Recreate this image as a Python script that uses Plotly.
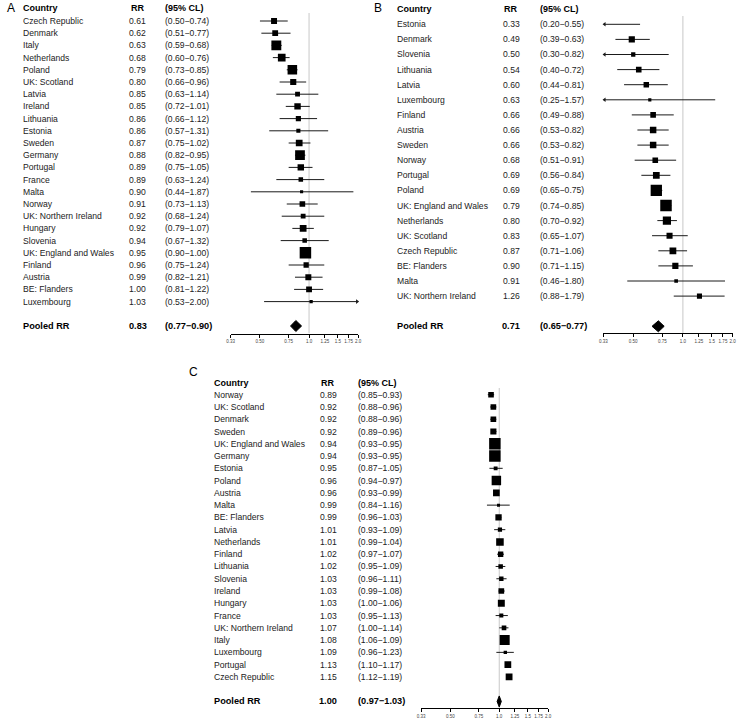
import math
import plotly.graph_objects as go

W, H = 742, 720

# ---------------- data ----------------
a_countries = ["Czech Republic", "Denmark", "Italy", "Netherlands", "Poland", "UK: Scotland",
               "Latvia", "Ireland", "Lithuania", "Estonia", "Sweden", "Germany", "Portugal",
               "France", "Malta", "Norway", "UK: Northern Ireland", "Hungary", "Slovenia",
               "UK: England and Wales", "Finland", "Austria", "BE: Flanders", "Luxembourg"]
a_rr = [0.61, 0.62, 0.63, 0.68, 0.79, 0.80, 0.85, 0.85, 0.86, 0.86, 0.87, 0.88, 0.89,
        0.89, 0.90, 0.91, 0.92, 0.92, 0.94, 0.95, 0.96, 0.99, 1.00, 1.03]
a_lo = [0.50, 0.51, 0.59, 0.60, 0.73, 0.66, 0.63, 0.72, 0.66, 0.57, 0.75, 0.82, 0.75,
        0.63, 0.44, 0.73, 0.68, 0.79, 0.67, 0.90, 0.75, 0.82, 0.81, 0.53]
a_hi = [0.74, 0.77, 0.68, 0.76, 0.85, 0.96, 1.14, 1.01, 1.12, 1.31, 1.02, 0.95, 1.05,
        1.24, 1.87, 1.13, 1.24, 1.07, 1.32, 1.00, 1.24, 1.21, 1.22, 2.00]

b_countries = ["Estonia", "Denmark", "Slovenia", "Lithuania", "Latvia", "Luxembourg", "Finland",
               "Austria", "Sweden", "Norway", "Portugal", "Poland", "UK: England and Wales",
               "Netherlands", "UK: Scotland", "Czech Republic", "BE: Flanders", "Malta",
               "UK: Northern Ireland"]
b_rr = [0.33, 0.49, 0.50, 0.54, 0.60, 0.63, 0.66, 0.66, 0.66, 0.68, 0.69, 0.69, 0.79,
        0.80, 0.83, 0.87, 0.90, 0.91, 1.26]
b_lo = [0.20, 0.39, 0.30, 0.40, 0.44, 0.25, 0.49, 0.53, 0.53, 0.51, 0.56, 0.65, 0.74,
        0.70, 0.65, 0.71, 0.71, 0.46, 0.88]
b_hi = [0.55, 0.63, 0.82, 0.72, 0.81, 1.57, 0.88, 0.82, 0.82, 0.91, 0.84, 0.75, 0.85,
        0.92, 1.07, 1.06, 1.15, 1.80, 1.79]

c_countries = ["Norway", "UK: Scotland", "Denmark", "Sweden", "UK: England and Wales", "Germany",
               "Estonia", "Poland", "Austria", "Malta", "BE: Flanders", "Latvia", "Netherlands",
               "Finland", "Lithuania", "Slovenia", "Ireland", "Hungary", "France",
               "UK: Northern Ireland", "Italy", "Luxembourg", "Portugal", "Czech Republic"]
c_rr = [0.89, 0.92, 0.92, 0.92, 0.94, 0.94, 0.95, 0.96, 0.96, 0.99, 0.99, 1.01, 1.01,
        1.02, 1.02, 1.03, 1.03, 1.03, 1.03, 1.07, 1.08, 1.09, 1.13, 1.15]
c_lo = [0.85, 0.88, 0.88, 0.89, 0.93, 0.93, 0.87, 0.94, 0.93, 0.84, 0.96, 0.93, 0.99,
        0.97, 0.95, 0.96, 0.99, 1.00, 0.95, 1.00, 1.06, 0.96, 1.10, 1.12]
c_hi = [0.93, 0.96, 0.96, 0.96, 0.95, 0.95, 1.05, 0.97, 0.99, 1.16, 1.03, 1.09, 1.04,
        1.07, 1.09, 1.11, 1.08, 1.06, 1.13, 1.14, 1.09, 1.23, 1.17, 1.19]

pooled_rr = [0.83, 0.71, 1.00]
pooled_lo = [0.77, 0.65, 0.97]
pooled_hi = [0.90, 0.77, 1.03]

panel_letters = ["A", "B", "C"]
tick_vals = [0.33, 0.5, 0.75, 1.0, 1.25, 1.5, 1.75, 2.0]
tick_text = ["0.33", "0.50", "0.75", "1.0", "1.25", "1.5", "1.75", "2.0"]
X_MIN, X_MAX = 0.33, 2.0

# ---------------- layout geometry (pixels) ----------------
panels = [
    dict(c=a_countries, rr=a_rr, lo=a_lo, hi=a_hi,
         x0=229, x1=358, row0=21, sp=12.2, top=2, bottom=333.5, head=8, vtop=13,
         cx=17, rrx=135, clx=161, lx=1, ly=8),
    dict(c=b_countries, rr=b_rr, lo=b_lo, hi=b_hi,
         x0=606, x1=736.5, row0=24.3, sp=15.1, top=3, bottom=333.3, head=9, vtop=16,
         cx=395, rrx=513, clx=540, lx=372, ly=8),
    dict(c=c_countries, rr=c_rr, lo=c_lo, hi=c_hi,
         x0=421.7, x1=550, row0=394.7, sp=12.27, top=376, bottom=708.3, head=382.7, vtop=388,
         cx=210, rrx=328, clx=355.7, lx=185, ly=372),
]

FONT = "Liberation Sans, Arial, sans-serif"
fig = go.Figure()
annotations = []
layout = dict(width=W, height=H, margin=dict(l=0, r=0, t=0, b=0),
              paper_bgcolor="white", plot_bgcolor="white", showlegend=False,
              font=dict(family=FONT))


def idx(p, py):
    return (py - p["row0"]) / p["sp"]


for k, p in enumerate(panels):
    n = k + 1
    xname = "x" if n == 1 else f"x{n}"
    yname = "y" if n == 1 else f"y{n}"
    xkey = "xaxis" if n == 1 else f"xaxis{n}"
    ykey = "yaxis" if n == 1 else f"yaxis{n}"
    nrows = len(p["c"])
    pool_i = nrows + 1
    top_val = idx(p, p["top"])
    bot_val = idx(p, p["bottom"])

    layout[xkey] = dict(type="log", range=[math.log10(X_MIN), math.log10(X_MAX)],
                        domain=[p["x0"] / W, p["x1"] / W], anchor=yname,
                        showline=True, linecolor="black", linewidth=1,
                        ticks="outside", ticklen=3, tickwidth=1, tickcolor="black",
                        tickvals=tick_vals, ticktext=tick_text, tickangle=0,
                        tickfont=dict(size=4.5, color="#444", family=FONT),
                        showgrid=False, zeroline=False, fixedrange=True)
    layout[ykey] = dict(domain=[1 - p["bottom"] / H, 1 - p["top"] / H],
                        range=[bot_val, top_val], visible=False, anchor=xname,
                        showgrid=False, zeroline=False, fixedrange=True)

    # reference line at RR = 1
    fig.add_trace(go.Scatter(x=[1, 1], y=[idx(p, p["vtop"]), bot_val], mode="lines",
                             line=dict(color="#c8c8c8", width=1), xaxis=xname, yaxis=yname,
                             hoverinfo="skip"))

    # confidence intervals
    xs, ys = [], []
    arrL_x, arrL_y, arrR_x, arrR_y = [], [], [], []
    for i in range(nrows):
        lo = max(p["lo"][i], X_MIN)
        hi = min(p["hi"][i], X_MAX)
        xs += [lo, hi, None]
        ys += [i, i, None]
        if p["lo"][i] < X_MIN:
            arrL_x.append(X_MIN * 1.015)
            arrL_y.append(i)
        if p["hi"][i] >= X_MAX:
            arrR_x.append(X_MAX / 1.015)
            arrR_y.append(i)
    fig.add_trace(go.Scatter(x=xs, y=ys, mode="lines", line=dict(color="#1a1a1a", width=1),
                             xaxis=xname, yaxis=yname, hoverinfo="skip"))
    if arrL_x:
        fig.add_trace(go.Scatter(x=arrL_x, y=arrL_y, mode="markers", cliponaxis=False,
                                 marker=dict(symbol="triangle-left", size=4, color="#1a1a1a"),
                                 xaxis=xname, yaxis=yname, hoverinfo="skip"))
    if arrR_x:
        fig.add_trace(go.Scatter(x=arrR_x, y=arrR_y, mode="markers", cliponaxis=False,
                                 marker=dict(symbol="triangle-right", size=4, color="#1a1a1a"),
                                 xaxis=xname, yaxis=yname, hoverinfo="skip"))

    # squares sized by precision (inverse of log-CI width)
    se = [math.log(p["hi"][i] / p["lo"][i]) / 3.92 for i in range(nrows)]
    se_min = min(se)
    sizes = [max(3.0, 11.5 * math.sqrt(se_min / s)) for s in se]
    opac = [0 if p["rr"][i] <= X_MIN else 1 for i in range(nrows)]
    fig.add_trace(go.Scatter(x=p["rr"], y=list(range(nrows)), mode="markers",
                             marker=dict(symbol="square", size=sizes, color="black",
                                         opacity=opac, line=dict(width=0)),
                             xaxis=xname, yaxis=yname, hoverinfo="skip"))

    # pooled diamond
    hh = 5.5 / p["sp"]
    pr, pl, ph = pooled_rr[k], pooled_lo[k], pooled_hi[k]
    fig.add_trace(go.Scatter(x=[pl, pr, ph, pr, pl], y=[pool_i, pool_i - hh, pool_i, pool_i + hh, pool_i],
                             mode="lines", fill="toself", fillcolor="black",
                             line=dict(color="black", width=1), xaxis=xname, yaxis=yname,
                             hoverinfo="skip"))

    # texts
    def ann(x, y, text, anchor="left", size=8.6, color="#222", bold=False):
        t = f"<b>{text}</b>" if bold else text
        annotations.append(dict(x=x / W, xref="paper", y=y, yref=yname, text=t,
                                showarrow=False, xanchor=anchor, yanchor="middle",
                                font=dict(size=size, color=color, family=FONT)))

    hy = idx(p, p["head"])
    ann(p["cx"], hy, "Country", size=9, color="black", bold=True)
    ann(p["rrx"], hy, "RR", anchor="center", size=9, color="black", bold=True)
    ann(p["clx"], hy, "(95% CL)", size=9, color="black", bold=True)
    annotations.append(dict(x=p["lx"] / W, xref="paper", y=1 - p["ly"] / H, yref="paper",
                            text=panel_letters[k], showarrow=False, xanchor="left",
                            yanchor="middle", font=dict(size=12, color="black", family=FONT)))
    for i in range(nrows):
        ann(p["cx"], i, p["c"][i])
        ann(p["rrx"], i, f"{p['rr'][i]:.2f}", anchor="center")
        ann(p["clx"], i, f"({p['lo'][i]:.2f}\u2212{p['hi'][i]:.2f})")
    ann(p["cx"], pool_i, "Pooled RR", size=9.2, color="black", bold=True)
    ann(p["rrx"], pool_i, f"{pr:.2f}", anchor="center", size=9.2, color="black", bold=True)
    ann(p["clx"], pool_i, f"({pl:.2f}\u2212{ph:.2f})", size=9.2, color="black", bold=True)

layout["annotations"] = annotations
fig.update_layout(**layout)
fig.write_html("out.html", config={"displayModeBar": False},
               post_script="document.body.style.margin='0px';document.body.style.padding='0px';")
